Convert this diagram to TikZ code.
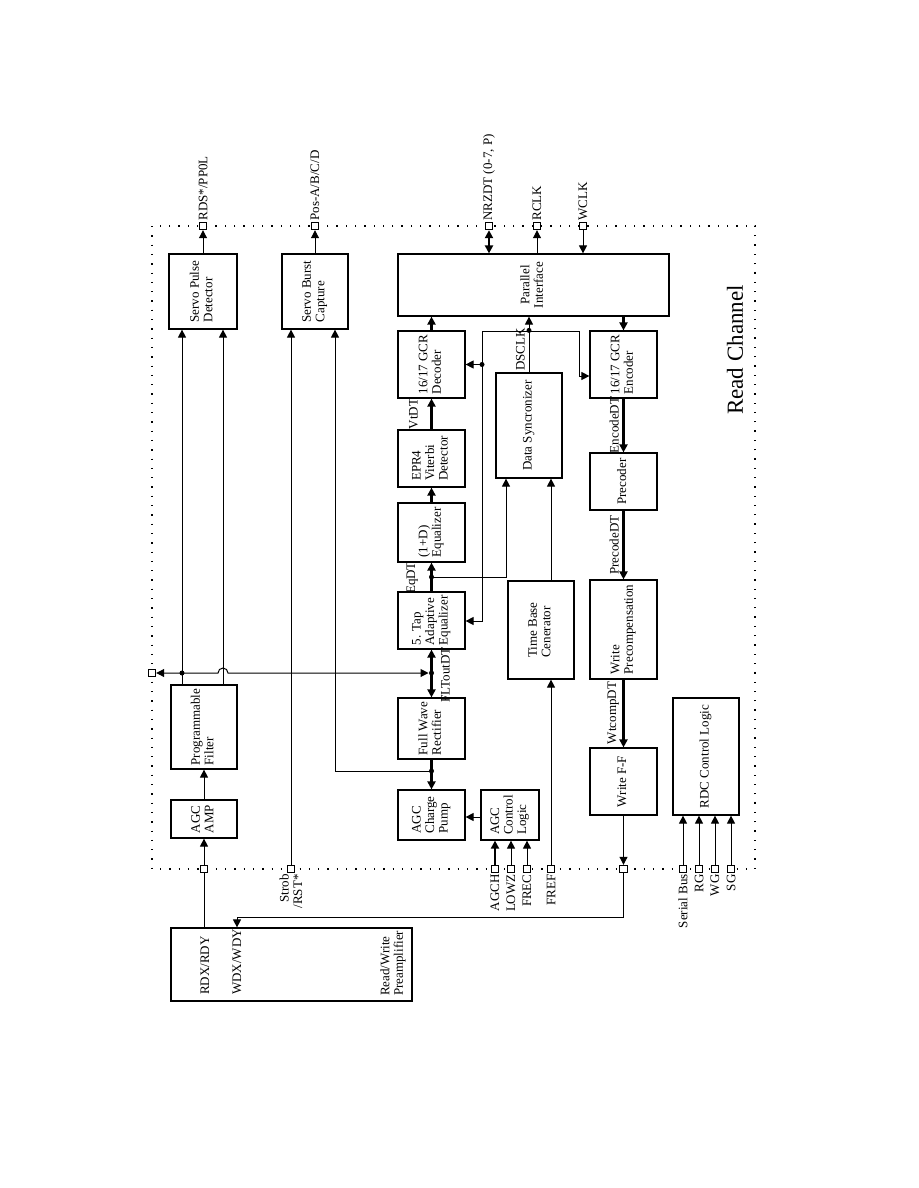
\documentclass[tikz,border=0pt]{standalone}
\usepackage{fontspec}
\setmainfont{Liberation Serif}
\usepackage{graphicx}
\usetikzlibrary{arrows.meta}
\newcommand\fs{\fontsize{13}{13.5}\selectfont}
\newcommand\rtx[1]{\rotatebox{90}{\begin{tabular}{@{}l@{}}#1\end{tabular}}}
\newcommand\rtc[1]{\rotatebox{90}{\begin{tabular}{@{}c@{}}#1\end{tabular}}}
\begin{document}
\begin{tikzpicture}[x=1pt,y=-1pt,
 box/.style={draw, line width=1.2pt, fill=white, inner sep=0pt, font=\fs},
 ln/.style={line width=1pt},
 thk/.style={line width=2.6pt},
 arr/.style={-{Triangle[length=8pt,width=8pt]}},
 darr/.style={{Triangle[length=8pt,width=8pt]}-{Triangle[length=8pt,width=8pt]}},
 pinbox/.style={draw, fill=white, minimum size=7.5pt, inner sep=0pt, line width=0.9pt},
 lbl/.style={rotate=90, font=\fs, inner sep=1pt},
 jdot/.style={circle, fill, inner sep=0pt, minimum size=5pt}]
\useasboundingbox (0,0) rectangle (918,1188);
\fill[white] (0,0) rectangle (918,1188);

% Read Channel border
\draw[line width=1.3pt, dash pattern=on 1.3pt off 8pt] (152,226) rectangle (755,869);
\node[rotate=90, font=\fontsize{23}{26}\selectfont] (title) at (735,350) {Read Channel};

% blocks
\node[box, minimum width=68, minimum height=75] (spd) at (203,291.5) {\rtx{Servo Pulse\\Detector}};
\node[box, minimum width=66, minimum height=75] (sbc) at (315,291.5) {\rtx{Servo Burst\\Capture}};
\node[box, minimum width=271, minimum height=62] (par) at (533.5,285) {\rtc{Parallel\\Interface}};
\node[box, minimum width=67, minimum height=67] (dec) at (431.5,364.5) {\rtx{16/17 GCR\\Decoder}};
\node[box, minimum width=66, minimum height=105] (dsy) at (529,425.5) {\rtx{Data Syncronizer}};
\node[box, minimum width=67, minimum height=67] (enc) at (623.5,364.5) {\rtx{16/17 GCR\\Encoder}};
\node[box, minimum width=67, minimum height=57] (vit) at (431.5,458.5) {\rtx{EPR4\\Viterbi\\Detector}};
\node[box, minimum width=67, minimum height=59] (eqa) at (431.5,532.5) {\rtx{(1+D)\\Equalizer}};
\node[box, minimum width=67, minimum height=57] (tap) at (431.5,620.5) {\rtx{5. Tap\\Adaptive\\Equalizer}};
\node[box, minimum width=66, minimum height=98] (tbg) at (541,630) {\rtx{Time Base\\Cenerator}};
\node[box, minimum width=67, minimum height=57] (pre) at (623.5,481.5) {\rtx{Precoder}};
\node[box, minimum width=67, minimum height=99] (wpc) at (623.5,629.5) {\rtx{Write\\Precompensation}};
\node[box, minimum width=67, minimum height=67] (wff) at (623.5,781.5) {\rtx{Write F-F}};
\node[box, minimum width=66, minimum height=117] (rdc) at (706,756.5) {\rtx{RDC Control Logic}};
\node[box, minimum width=67, minimum height=61] (fwr) at (431.5,728.5) {\rtx{Full Wave\\Rectifier}};
\node[box, minimum width=67, minimum height=50] (acp) at (431.5,815) {\rtx{AGC\\Charge\\Pump}};
\node[box, minimum width=58, minimum height=50] (acl) at (510,815) {\rtx{AGC\\Control\\Logic}};
\node[box, minimum width=66, minimum height=38] (amp) at (204,819) {\rtx{AGC\\AMP}};
\node[box, minimum width=66, minimum height=84] (pf) at (204,727) {\rtx{Programmable\\Filter}};
\node[box, minimum width=241, minimum height=73] (pa) at (291.5,964.5) {};
\node[lbl, anchor=west] (lrdx) at (205,996) {RDX/RDY};
\node[lbl, anchor=west] (lwdx) at (237,996) {WDX/WDY};
\node[lbl, anchor=west, align=left] (lrw) at (393,997) {Read/Write\\Preamplifier};

% helper coordinates
\coordinate (xa) at (182,0);
\coordinate (xb) at (223,0);
\coordinate (xc) at (291,0);
\coordinate (xd) at (335,0);
\coordinate (xe) at (506,0);
\coordinate (xf) at (551,0);
\coordinate (lpL) at (482,331);
\coordinate (lpR) at (579,331);
\coordinate (encin) at (enc.west |- 0,376);
\coordinate (tapin) at (tap.east |- 0,621);
\coordinate (jdec) at (lpL |- dec.east);
\coordinate (jds) at (dsy.north |- enc.north);
\coordinate (jeq) at (tap.north |- 0,577);
\coordinate (jflt) at (tap.south |- 0,673);
\coordinate (jpf) at (182,673);
\coordinate (hop) at (223,673);
\coordinate (jfw) at (fwr.south |- 0,771);
\coordinate (wturn) at (237,917);

% pins
\node[pinbox] (prds) at (203,226) {};
\node[pinbox] (ppos) at (315,226) {};
\node[pinbox] (pnrz) at (489,226) {};
\node[pinbox] (prclk) at (537,226) {};
\node[pinbox] (pwclk) at (583,226) {};
\node[pinbox] (pflt) at (152,673) {};
\node[pinbox] (prdx) at (204,869) {};
\node[pinbox] (pstrob) at (291,869) {};
\node[pinbox] (pagch) at (495,869) {};
\node[pinbox] (plowz) at (511,869) {};
\node[pinbox] (pfrec) at (527,869) {};
\node[pinbox] (pfref) at (551,869) {};
\node[pinbox] (pwr) at (623.5,869) {};
\node[pinbox] (psb) at (683,869) {};
\node[pinbox] (prg) at (699,869) {};
\node[pinbox] (pwg) at (715,869) {};
\node[pinbox] (psg) at (731,869) {};

% pin labels
\node[lbl, anchor=west] (lrds) at (prds.north) {RDS*/PP0L};
\node[lbl, anchor=west] (lpos) at (ppos.north) {Pos-A/B/C/D};
\node[lbl, anchor=west] (lnrz) at (pnrz.north) {NRZDT (0-7, P)};
\node[lbl, anchor=west] (lrclk) at (prclk.north) {RCLK};
\node[lbl, anchor=west] (lwclk) at (pwclk.north) {WCLK};
\node[lbl, anchor=east, align=right] (lstrob) at (pstrob.south) {Strob\\/RST*};
\node[lbl, anchor=east] (lagch) at (pagch.south) {AGCH};
\node[lbl, anchor=east] (llowz) at (plowz.south) {LOWZ};
\node[lbl, anchor=east] (lfrec) at (pfrec.south) {FREC};
\node[lbl, anchor=east] (lfref) at (pfref.south) {FREF};
\node[lbl, anchor=east] (lsb) at (psb.south) {Serial Bus};
\node[lbl, anchor=east] (lrg) at (prg.south) {RG};
\node[lbl, anchor=east] (lwg) at (pwg.south) {WG};
\node[lbl, anchor=east] (lsg) at (psg.south) {SG};

% connectors: outputs
\draw[ln, arr] (spd.north) -- (prds.south);
\draw[ln, arr] (sbc.north) -- (ppos.south);
\draw[thk, darr] (pnrz.south) -- (pnrz |- par.north);
\draw[ln, arr] (prclk |- par.north) -- (prclk.south);
\draw[ln, arr] (pwclk.south) -- (pwclk |- par.north);

% read path
\draw[thk, arr] (dec.north) -- (dec.north |- par.south);
\draw[thk, arr] (enc.north |- par.south) -- (enc.north);
\draw[ln, arr] (dsy.north) -- (dsy.north |- par.south);
\draw[ln, arr] (lpL) -- (lpR) |- (encin);
\draw[ln, arr] (lpL) |- (tapin);
\draw[ln, arr] (jdec) -- (dec.east);
\draw[thk, arr] (vit.north) -- (dec.south);
\draw[thk, arr] (eqa.north) -- (vit.south);
\draw[thk, arr] (tap.north) -- (eqa.south);
\draw[ln, arr] (jeq) -| (dsy.south -| xe);
\draw[ln, arr] (tbg.north -| xf) -- (dsy.south -| xf);
\draw[ln, arr] (pfref.north) -- (pfref |- tbg.south);
\draw[thk, darr] (tap.south) -- (fwr.north);
\draw[ln, darr, shorten >=3pt] (pflt.east) -- ([xshift=-5pt]hop) arc[start angle=180, end angle=360, radius=5] -- (jflt);
\draw[thk, arr] (fwr.south) -- (acp.north);
\draw[ln, arr] (jfw) -| (sbc.south -| xd);
\draw[ln, arr] (acl.west |- 0,817) -- (acp.east |- 0,817);
\draw[thk, arr] (pagch.north) -- (pagch |- acl.south);
\draw[ln, arr] (plowz.north) -- (plowz |- acl.south);
\draw[ln, arr] (pfrec.north) -- (pfrec |- acl.south);

% servo / front end
\draw[ln, arr] (pf.north -| xa) -- (spd.south -| xa);
\draw[ln, arr] (pf.north -| xb) -- (spd.south -| xb);
\draw[ln, arr] (pstrob.north) -- (sbc.south -| xc);
\draw[ln] (pa.north -| prdx) -- (prdx.south);
\draw[ln, arr] (prdx.north) -- (amp.south);
\draw[ln, arr] (amp.north) -- (pf.south);

% write path
\draw[thk, arr] (enc.south) -- (pre.north);
\draw[thk, arr] (pre.south) -- (wpc.north);
\draw[thk, arr] (wpc.south) -- (wff.north);
\draw[ln, arr] (wff.south) -- (pwr.north);
\draw[ln, arr] (pwr.south) |- (wturn) -- (pa.north -| wturn);

% RDC control
\draw[ln, arr] (psb.north) -- (psb |- rdc.south);
\draw[ln, arr] (prg.north) -- (prg |- rdc.south);
\draw[ln, arr] (pwg.north) -- (pwg |- rdc.south);
\draw[ln, arr] (psg.north) -- (psg |- rdc.south);

% junction dots
\node[jdot] (d1) at (jds) {};
\node[jdot] (d2) at (jdec) {};
\node[jdot] (d3) at (jeq) {};
\node[jdot] (d4) at (jflt) {};
\node[jdot] (d5) at (jpf) {};
\node[jdot] (d6) at (jfw) {};

% signal labels
\node[lbl, anchor=south west] (lds) at (526,372) {DSCLK};
\node[lbl, anchor=south] (lvt) at (419,414) {VtDT};
\node[lbl, anchor=south] (leq) at (419,578) {EqDT};
\node[lbl, anchor=north] (lflt) at (440,675) {FLToutDT};
\node[lbl, anchor=south] (lenc) at (620,425) {EncodeDT};
\node[lbl, anchor=south] (lprc) at (620,545) {PrecodeDT};
\node[lbl, anchor=south] (lwtc) at (620,713) {WtcompDT};
\end{tikzpicture}
\end{document}
